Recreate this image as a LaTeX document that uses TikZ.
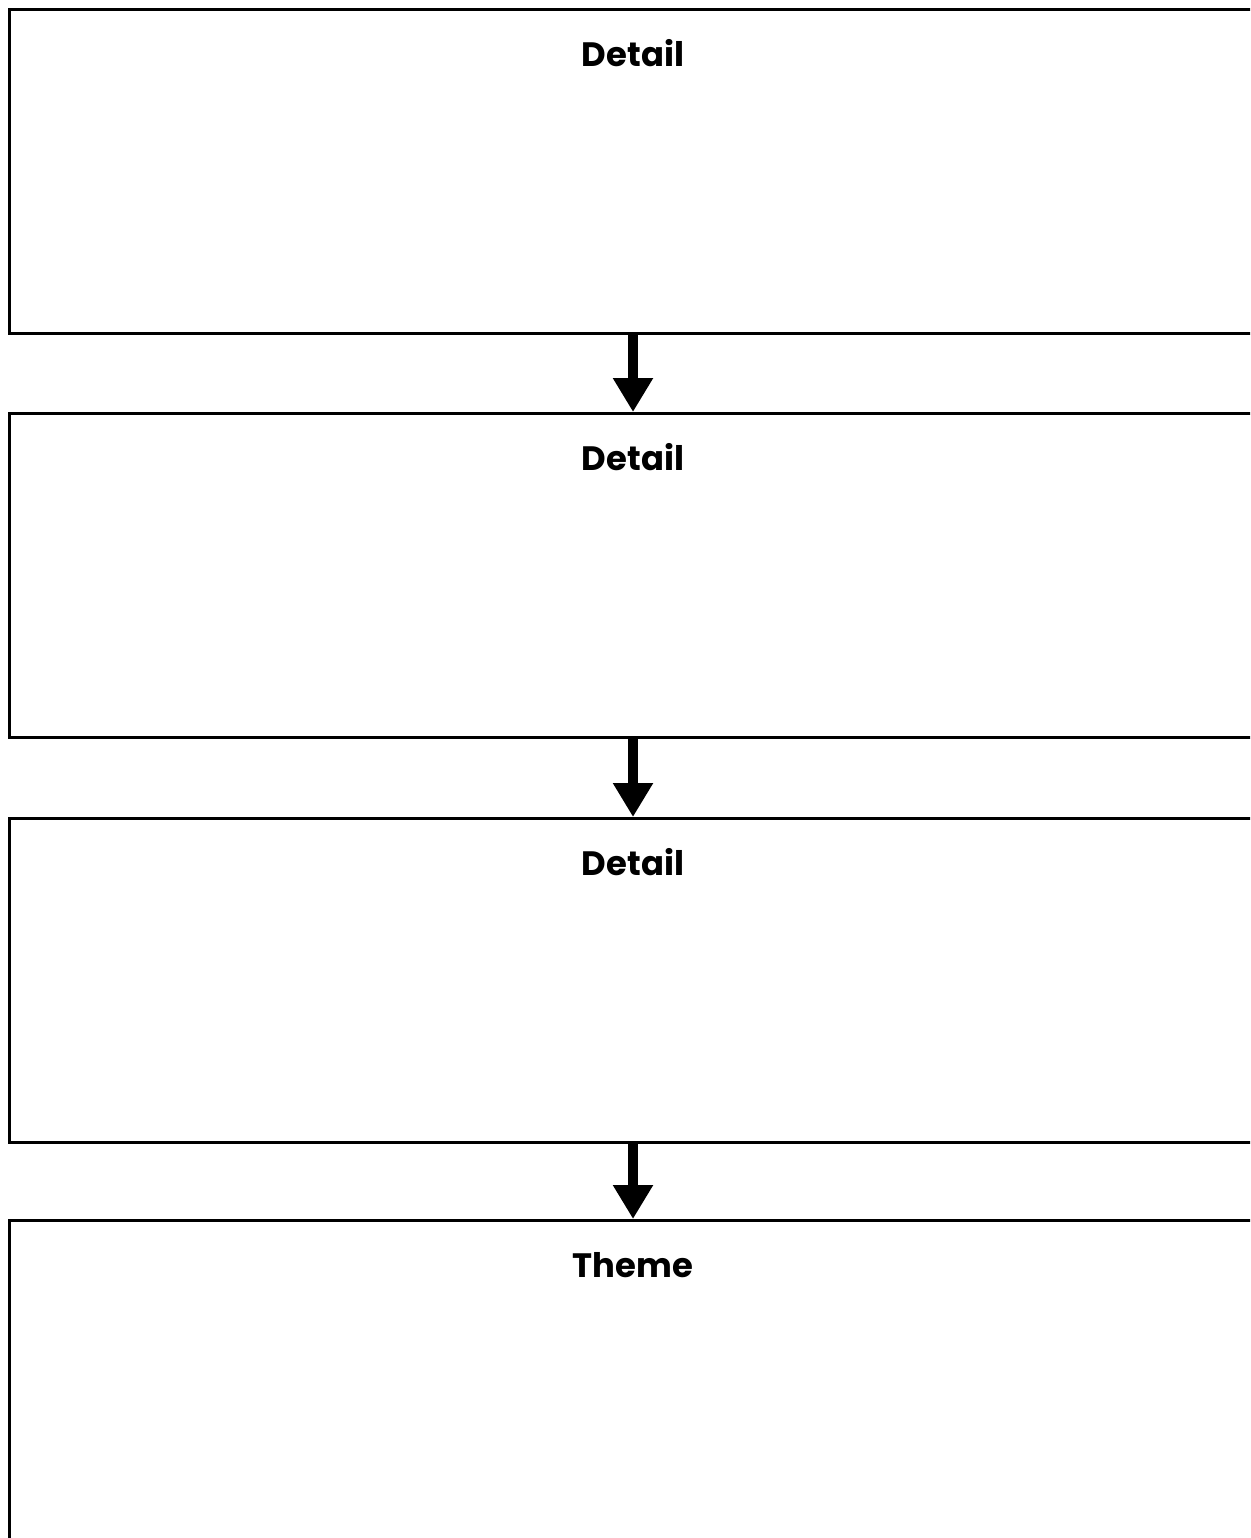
\documentclass[tikz,border=0pt]{standalone}
\usepackage{fontspec}
\setmainfont{Poppins}
\usetikzlibrary{arrows.meta}
\begin{document}
\begin{tikzpicture}[x=0.6pt,y=-0.6pt,
  box/.style={draw=black,line width=1.7pt,fill=white,rectangle,inner sep=0pt,
    minimum width=751.8pt,minimum height=#1,anchor=north west},
  box/.default=194.4pt,
  title/.style={anchor=base,font=\bfseries\fontsize{20.3}{24}\selectfont},
  flow/.style={line width=6pt,-{Triangle[width=22.8pt,length=20.4pt]}}]
\useasboundingbox (0,0) rectangle (1250,1538);
\clip (0,0) rectangle (1250,1538);
\node[box] (b1) at (8,8) {};
\node[box] (b2) at (8,412) {};
\node[box] (b3) at (8,817) {};
\node[box=210pt] (b4) at (8,1219) {};
\node[title] (t1) at (633,67) {Detail};
\node[title] (t2) at (633,470) {Detail};
\node[title] (t3) at (633,875) {Detail};
\node[title] (t4) at (633,1277) {Theme};
\coordinate (a1) at (633,332);
\coordinate (a2) at (633,412);
\coordinate (a3) at (633,737);
\coordinate (a4) at (633,817);
\coordinate (a5) at (633,1141);
\coordinate (a6) at (633,1219);
\draw[flow] (a1) -- (a2);
\draw[flow] (a3) -- (a4);
\draw[flow] (a5) -- (a6);
\end{tikzpicture}
\end{document}
